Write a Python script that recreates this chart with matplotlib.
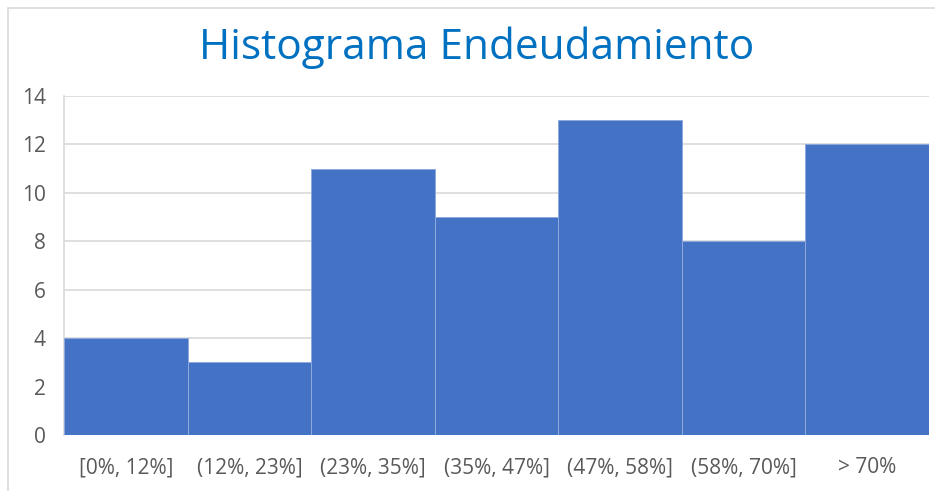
import matplotlib.pyplot as plt
from matplotlib.patches import Rectangle

categories = ['[0%, 12%]', '(12%, 23%]', '(23%, 35%]', '(35%, 47%]',
              '(47%, 58%]', '(58%, 70%]', '> 70%']
counts = [4, 3, 11, 9, 13, 8, 12]
yticks = [0, 2, 4, 6, 8, 10, 12, 14]

plt.rcParams['font.family'] = ['Open Sans', 'DejaVu Sans']

fig = plt.figure(figsize=(9.35, 4.91), dpi=100)
ax = fig.add_axes([64 / 935, 1 - 435 / 491, 865 / 935, 339 / 491])

# chart frame (light gray, top & left visible)
fig.patches.append(Rectangle((8 / 935, -0.1), 1.2, 1 - 8 / 491 + 0.1,
                             transform=fig.transFigure, fill=False,
                             edgecolor='#D9D9D9', linewidth=1.2))

x = range(len(categories))
ax.bar(x, counts, width=1.0, color='#4472C4', edgecolor='#8FA9DC',
       linewidth=0.7, zorder=3)

ax.set_xlim(-0.5, len(categories) - 0.5)
ax.set_ylim(0, 14)
ax.set_yticks(yticks)
ax.set_xticks(list(x))
ax.set_xticklabels(categories)
ax.grid(axis='y', color='#D9D9D9', linewidth=1.2, zorder=0)
for s in ['top', 'right', 'bottom']:
    ax.spines[s].set_visible(False)
ax.spines['left'].set_color('#D9D9D9')
ax.spines['left'].set_linewidth(1.2)
ax.tick_params(axis='both', length=0, labelsize=15, labelcolor='#595959')
ax.tick_params(axis='x', pad=16)
ax.tick_params(axis='y', pad=13)

fig.text(477 / 935, 1 - 48 / 491, 'Histograma Endeudamiento', ha='center',
         va='center', fontsize=30.5, color='#0070C0')

fig.savefig('out.png', dpi=100)
